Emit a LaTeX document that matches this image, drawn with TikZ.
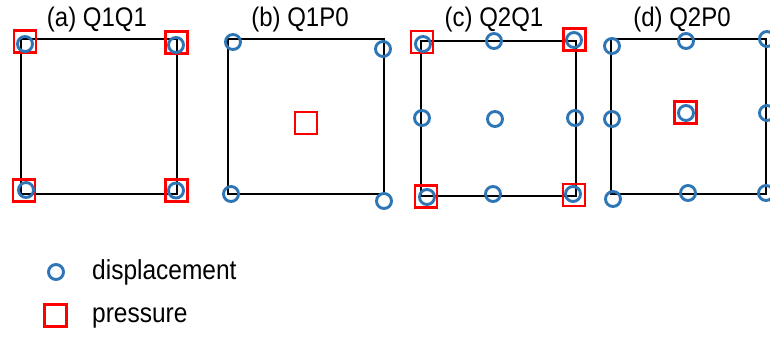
\documentclass[tikz,border=0pt]{standalone}
\usepackage{fontspec}
\setmainfont{Liberation Sans}
\definecolor{dblue}{RGB}{46,117,182}
\newcommand{\vstretch}[1]{\scalebox{1}[1.12]{#1}}
\begin{document}
\begin{tikzpicture}[x=1pt,y=-1pt,
  disp/.style={circle, draw=dblue, line width=2.9pt, minimum size=15pt, inner sep=0pt},
  pres/.style={rectangle, draw=red, line width=2.5pt, minimum size=22pt, inner sep=0pt},
  elem/.style={draw=black, line width=1.5pt},
  ttl/.style={anchor=base, inner sep=0pt, font=\fontsize{24}{24}\selectfont},
  lbl/.style={anchor=base west, inner sep=0pt, font=\fontsize{24.5}{24}\selectfont}]
\useasboundingbox (0,0) rectangle (770,337);
% panel a
\draw[elem] (21,39) rectangle (177,194);
\node[ttl] (ta) at (97,27) {\vstretch{(a) Q1Q1}};
\node[pres] (pa1) at (25,41.5) {};
\node[pres] (pa2) at (176.5,42.5) {};
\node[pres] (pa3) at (24,190.5) {};
\node[pres] (pa4) at (176.5,190.5) {};
\node[disp] (da1) at (25,44) {};
\node[disp] (da2) at (176,45) {};
\node[disp] (da3) at (26,190) {};
\node[disp] (da4) at (176,190.5) {};
% panel b
\draw[elem] (228,39) rectangle (384,194);
\node[ttl] (tb) at (300,27) {\vstretch{(b) Q1P0}};
\node[pres] (pb) at (306,123) {};
\node[disp] (db1) at (233,42) {};
\node[disp] (db2) at (383,49) {};
\node[disp] (db3) at (231,194) {};
\node[disp] (db4) at (384,201) {};
% panel c
\draw[elem] (421,41) rectangle (576,196);
\node[ttl] (tc) at (494,27) {\vstretch{(c) Q2Q1}};
\node[pres] (pc1) at (422,42) {};
\node[pres] (pc2) at (574.5,39.5) {};
\node[pres] (pc3) at (426,196.5) {};
\node[pres] (pc4) at (574,195) {};
\node[disp] (dc1) at (423,44) {};
\node[disp] (dc2) at (494,41) {};
\node[disp] (dc3) at (574,40) {};
\node[disp] (dc4) at (422,118) {};
\node[disp] (dc5) at (495,119) {};
\node[disp] (dc6) at (575,118) {};
\node[disp] (dc7) at (427,197) {};
\node[disp] (dc8) at (493,194) {};
\node[disp] (dc9) at (573,194) {};
% panel d
\draw[elem] (611,39) rectangle (766,194);
\node[ttl] (td) at (682,27) {\vstretch{(d) Q2P0}};
\node[pres] (pd) at (685.5,112.5) {};
\node[disp] (dd1) at (612,46) {};
\node[disp] (dd2) at (686,41) {};
\node[disp] (dd3) at (767,39) {};
\node[disp] (dd4) at (612,119) {};
\node[disp] (dd5) at (686,113) {};
\node[disp] (dd6) at (767,113) {};
\node[disp] (dd7) at (613,199) {};
\node[disp] (dd8) at (688,193) {};
\node[disp] (dd9) at (766,193) {};
% legend
\node[disp] (ld) at (56,272) {};
\node[pres] (lp) at (55.5,315.5) {};
\node[lbl] (ltd) at (92,279) {\vstretch{displacement}};
\node[lbl] (ltp) at (92,322) {\vstretch{pressure}};
\end{tikzpicture}
\end{document}
